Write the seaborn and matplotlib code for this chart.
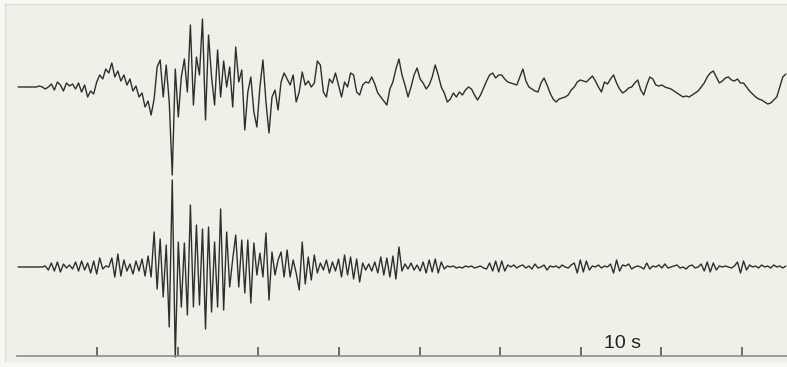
import numpy as np
import pandas as pd
import matplotlib
matplotlib.use("Agg")
import matplotlib.pyplot as plt
import seaborn as sns

# sampling of the two records (seconds)
t_start = 0.2
dt = 0.375

# upper trace: displacement from its rest line (counts)
upper = [
    0, 0, 0, 0, 0, 0, 0, 1, 0, -2,
    0, 3, -3, 5, 2, -4, 4, 1, 3, -2,
    4, -5, 2, -10, -4, -7, 5, 12, 8, 18,
    14, 24, 10, 16, 6, 12, 2, 8, -4, 1,
    -10, -6, -20, -14, -28, -12, 20, 27, -10, 22,
    -15, -88, 18, -30, 10, 28, -5, 62, -18, 30,
    12, 68, -33, 52, 10, -18, 37, -10, 26, 0,
    20, -20, 40, 5, 17, -43, -5, 10, -25, -40,
    0, 27, -15, -46, -10, -3, -23, 5, 14, 8,
    2, 12, -15, -5, 15, 2, 6, 0, 4, 26,
    22, -5, -10, 8, 4, 14, 2, -10, 5, 0,
    14, 12, -5, -8, 2, 5, 4, 10, 3, -6,
    -10, -14, -18, -2, 5, 18, 28, 12, 2, -10,
    0, 12, 19, 8, 4, -2, 2, 10, 22, 12,
    0, -6, -15, -12, -6, -10, -5, -8, -3, 0,
    -2, -8, -13, -8, -1, 6, 12, 14, 9, 12,
    12, 8, 5, 4, 3, 2, 10, 18, 6, 0,
    -2, -4, -5, 4, 9, 2, -6, -12, -15, -12,
    -11, -10, -8, -3, 0, 5, 7, 6, 5, 8,
    11, 6, 0, -5, 5, 3, 8, 12, 4, -2,
    -6, -4, -1, 0, 4, 7, -3, -8, 2, 10,
    8, 2, 1, 2, 0, -1, -2, -4, -6, -8,
    -10, -9, -10, -8, -6, -4, 0, 4, 10, 14,
    16, 10, 4, 6, 9, 10, 7, 6, 8, 4,
    4, 0, -4, -7, -10, -12, -13, -15, -17, -16,
    -13, -10, 0, 10, 13,
]

# lower trace: displacement from its rest line (counts)
lower = [
    0, 0, 0, 0, 0, 0, 0, 0, 0, 1,
    -3, 4, -4, 5, -5, 3, -1, 2, -2, 5,
    -4, 6, -3, 4, -6, 6, -7, 9, -2, 1,
    0, 9, -10, 13, -9, 7, -4, 3, -7, 6,
    -4, 8, -9, 11, -10, 35, -22, 28, -30, 22,
    -60, 87, -90, 25, -40, 24, -48, 62, -40, 42,
    -38, 38, -62, 40, -45, 25, -40, 58, -43, 35,
    -20, 8, 32, -20, 27, -26, 27, -36, 24, -8,
    14, -10, 34, -33, 15, -8, 7, 15, -10, 17,
    -10, 7, -6, -23, 25, -17, 10, -13, 12, -6,
    4, -3, 7, -6, 5, -4, 8, -10, 12, -8,
    10, -12, 8, -15, 4, -3, 3, -4, 5, -6,
    10, -8, 9, -10, 11, -12, 20, -4, 3, -2,
    4, -3, 2, -4, 5, -6, 7, -5, 8, -6,
    5, -2, 1, 0, 1, -1, 0, -1, 1, 0,
    1, -1, 0, 1, -1, -2, 4, -4, 6, -5,
    6, -4, 2, 0, 2, -1, 1, 2, -1, 1,
    -2, 3, -1, 0, 2, -3, 1, 0, 1, -1,
    2, 0, -1, 2, 4, -6, 7, -5, 6, -3,
    1, 0, 2, -1, 1, 0, 3, -6, 7, -4,
    2, 1, 3, -2, 0, 1, 0, -2, 4, -2,
    1, 0, 2, -1, 3, -1, 0, 1, 2, -1,
    0, -2, 1, 2, -1, 0, 3, -4, 5, -5,
    4, -3, 1, 0, 1, 0, -1, 1, 5, -6,
    6, -3, 2, 0, 1, -1, 2, 0, 1, -1,
    2, 0, 1, -1, 1,
]

trace_names = ["upper", "lower"]
rest_levels = [280, 100]       # vertical offset of each record
axis_level = 11.5              # time axis line
tick_times = [10, 20, 30, 40, 50, 60, 70, 80, 90]
scale_label = "10 s"

n = min(len(upper), len(lower))
t = t_start + dt * np.arange(n)
frames = []
for name, vals, lvl in zip(trace_names, [upper, lower], rest_levels):
    frames.append(pd.DataFrame({"time": t, "amp": np.array(vals[:n]) + lvl, "trace": name}))
df = pd.concat(frames, ignore_index=True)

sns.set_theme(style="white")
plt.rcParams["font.family"] = ["Liberation Sans", "DejaVu Sans"]

fig = plt.figure(figsize=(7.87, 3.67), dpi=100, facecolor="#f7f7f3")
ax = fig.add_axes([5 / 787, 5 / 367, 782 / 787, 358 / 367])
ax.set_facecolor("#f0f0e8")

sns.lineplot(data=df, x="time", y="amp", units="trace", estimator=None, sort=False,
             color="#2e2e2e", linewidth=1.0, ax=ax, legend=False)

ax.set_xlim((5 - 16.5) / 8.06, (787 - 16.5) / 8.06)
ax.set_ylim(5, 363)

# time axis drawn on the bottom spine
ax.spines["bottom"].set_position(("data", axis_level))
ax.spines["bottom"].set_bounds(t_start - 0.2, (787 - 16.5) / 8.06)
ax.spines["bottom"].set_color("#8c8c8c")
ax.spines["bottom"].set_linewidth(1.2)
for s in ["left", "top"]:
    ax.spines[s].set_color("#dcdcd4")
    ax.spines[s].set_linewidth(0.8)
ax.spines["right"].set_visible(False)

ax.set_xticks(tick_times)
ax.set_xticklabels([])
ax.set_yticks([])
ax.tick_params(axis="x", direction="in", length=6.5, width=1.2, color="#555555", bottom=True)
ax.set_xlabel("")
ax.set_ylabel("")

ax.text(75.2, 19, scale_label, ha="center", va="baseline", fontsize=14, color="#222222")

fig.savefig("out.png", dpi=100, facecolor=fig.get_facecolor())
